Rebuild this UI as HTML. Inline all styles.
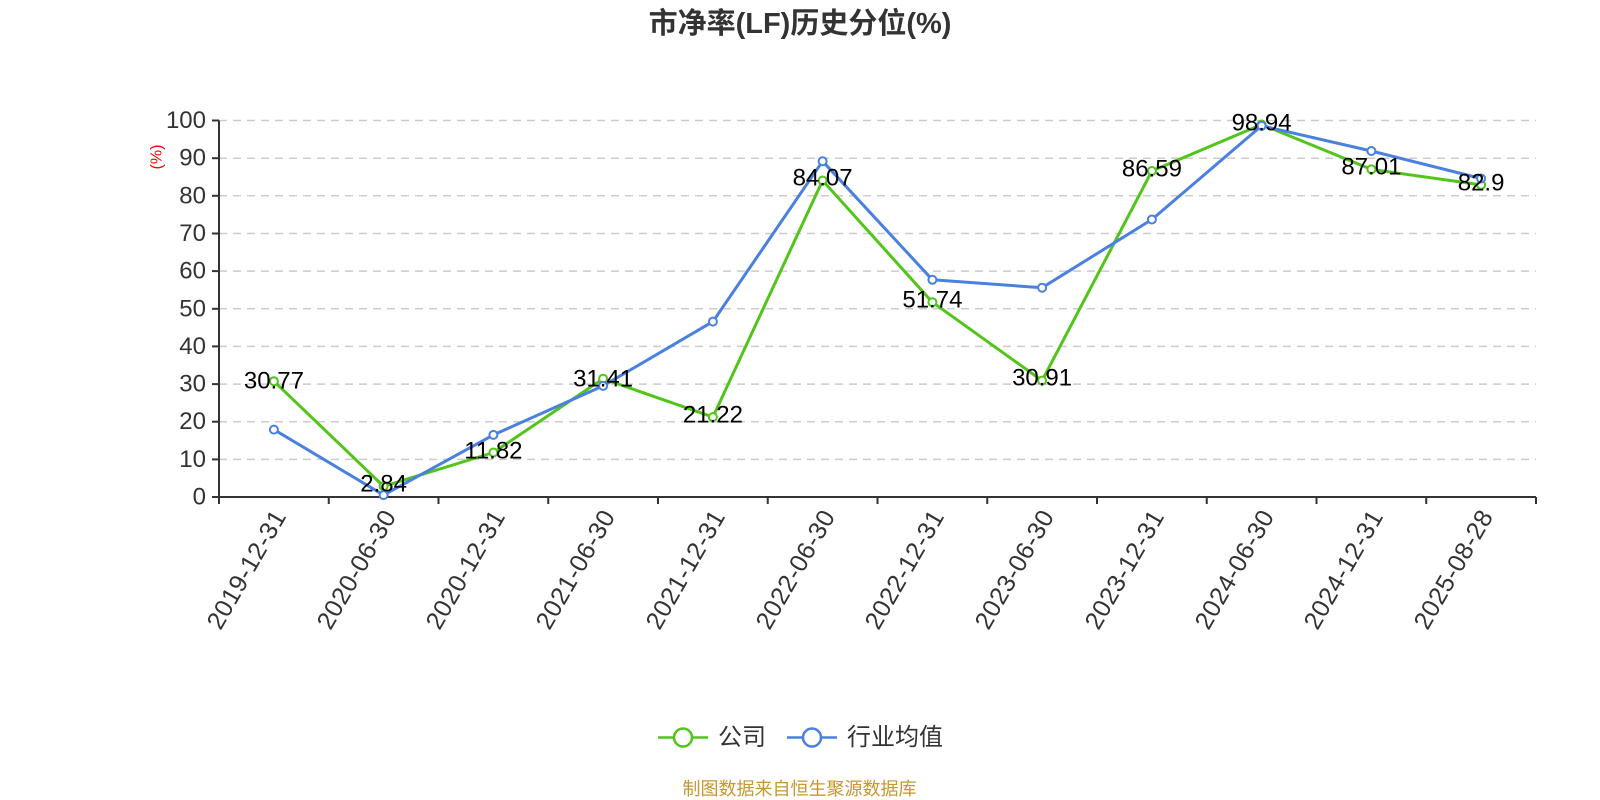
<!DOCTYPE html>
<html><head><meta charset="utf-8"><style>
html,body{margin:0;padding:0;background:#fff;}
svg{display:block;font-family:"Liberation Sans","Noto Sans CJK SC",sans-serif;}
</style></head><body>
<svg width="1600" height="800" viewBox="0 0 1600 800" xmlns="http://www.w3.org/2000/svg">
<text x="800" y="24" text-anchor="middle" dominant-baseline="central" font-size="29" font-weight="bold" fill="#333">市净率(LF)历史分位(%)</text>
<g stroke="#ccc" stroke-width="1.5" stroke-dasharray="8,6">
<line x1="219" x2="1536" y1="120.5" y2="120.5"/><line x1="219" x2="1536" y1="158.2" y2="158.2"/>
<line x1="219" x2="1536" y1="195.8" y2="195.8"/><line x1="219" x2="1536" y1="233.5" y2="233.5"/>
<line x1="219" x2="1536" y1="271.1" y2="271.1"/><line x1="219" x2="1536" y1="308.8" y2="308.8"/>
<line x1="219" x2="1536" y1="346.4" y2="346.4"/><line x1="219" x2="1536" y1="384.1" y2="384.1"/>
<line x1="219" x2="1536" y1="421.7" y2="421.7"/><line x1="219" x2="1536" y1="459.4" y2="459.4"/>
</g>
<g stroke="#333" stroke-width="2">
<line x1="219" x2="219" y1="120.5" y2="497"/>
<line x1="212" x2="219" y1="120.5" y2="120.5"/><line x1="212" x2="219" y1="158.2" y2="158.2"/><line x1="212" x2="219" y1="195.8" y2="195.8"/><line x1="212" x2="219" y1="233.5" y2="233.5"/><line x1="212" x2="219" y1="271.1" y2="271.1"/><line x1="212" x2="219" y1="308.8" y2="308.8"/><line x1="212" x2="219" y1="346.4" y2="346.4"/><line x1="212" x2="219" y1="384.1" y2="384.1"/><line x1="212" x2="219" y1="421.7" y2="421.7"/><line x1="212" x2="219" y1="459.4" y2="459.4"/><line x1="212" x2="219" y1="497" y2="497"/>
<line x1="219" x2="1536" y1="497" y2="497"/>
<line x1="219" x2="219" y1="497" y2="504"/><line x1="328.75" x2="328.75" y1="497" y2="504"/><line x1="438.5" x2="438.5" y1="497" y2="504"/><line x1="548.25" x2="548.25" y1="497" y2="504"/><line x1="658" x2="658" y1="497" y2="504"/><line x1="767.75" x2="767.75" y1="497" y2="504"/><line x1="877.5" x2="877.5" y1="497" y2="504"/><line x1="987.25" x2="987.25" y1="497" y2="504"/><line x1="1097" x2="1097" y1="497" y2="504"/><line x1="1206.75" x2="1206.75" y1="497" y2="504"/><line x1="1316.5" x2="1316.5" y1="497" y2="504"/><line x1="1426.25" x2="1426.25" y1="497" y2="504"/><line x1="1536" x2="1536" y1="497" y2="504"/>
</g>
<g font-size="24" fill="#333" text-anchor="end" dominant-baseline="central">
<text x="206" y="120.5">100</text><text x="206" y="158.2">90</text><text x="206" y="195.8">80</text><text x="206" y="233.5">70</text><text x="206" y="271.1">60</text><text x="206" y="308.8">50</text><text x="206" y="346.4">40</text><text x="206" y="384.1">30</text><text x="206" y="421.7">20</text><text x="206" y="459.4">10</text><text x="206" y="497">0</text>
</g>
<text transform="translate(157,157) rotate(-90)" font-size="16" fill="#f00" text-anchor="middle" dominant-baseline="central">(%)</text>
<g font-size="25" fill="#333" text-anchor="end" letter-spacing="0.5">
<text transform="translate(280,512) rotate(-60)" dominant-baseline="central">2019-12-31</text>
<text transform="translate(390,512) rotate(-60)" dominant-baseline="central">2020-06-30</text>
<text transform="translate(499,512) rotate(-60)" dominant-baseline="central">2020-12-31</text>
<text transform="translate(609,512) rotate(-60)" dominant-baseline="central">2021-06-30</text>
<text transform="translate(719,512) rotate(-60)" dominant-baseline="central">2021-12-31</text>
<text transform="translate(829,512) rotate(-60)" dominant-baseline="central">2022-06-30</text>
<text transform="translate(938,512) rotate(-60)" dominant-baseline="central">2022-12-31</text>
<text transform="translate(1048,512) rotate(-60)" dominant-baseline="central">2023-06-30</text>
<text transform="translate(1158,512) rotate(-60)" dominant-baseline="central">2023-12-31</text>
<text transform="translate(1268,512) rotate(-60)" dominant-baseline="central">2024-06-30</text>
<text transform="translate(1377,512) rotate(-60)" dominant-baseline="central">2024-12-31</text>
<text transform="translate(1487,512) rotate(-60)" dominant-baseline="central">2025-08-28</text>
</g>
<polyline fill="none" stroke="#52c41a" stroke-width="3" stroke-linejoin="round" points="273.9,381.2 383.6,486.3 493.4,452.5 603.1,378.7 712.9,417.1 822.6,180.5 932.4,302.2 1042.1,380.6 1151.9,171.0 1261.6,124.5 1371.4,169.4 1481.1,184.9"/>
<g fill="#fff" stroke="#52c41a" stroke-width="2">
<circle cx="273.9" cy="381.2" r="4"/><circle cx="383.6" cy="486.3" r="4"/><circle cx="493.4" cy="452.5" r="4"/><circle cx="603.1" cy="378.7" r="4"/><circle cx="712.9" cy="417.1" r="4"/><circle cx="822.6" cy="180.5" r="4"/><circle cx="932.4" cy="302.2" r="4"/><circle cx="1042.1" cy="380.6" r="4"/><circle cx="1151.9" cy="171.0" r="4"/><circle cx="1261.6" cy="124.5" r="4"/><circle cx="1371.4" cy="169.4" r="4"/><circle cx="1481.1" cy="184.9" r="4"/>
</g>
<polyline fill="none" stroke="#4a80e0" stroke-width="3" stroke-linejoin="round" points="273.9,429.6 383.6,495.1 493.4,434.9 603.1,385.9 712.9,321.6 822.6,161.2 932.4,279.8 1042.1,287.7 1151.9,219.5 1261.6,125.8 1371.4,151.0 1481.1,178.5"/>
<g fill="#fff" stroke="#4a80e0" stroke-width="2">
<circle cx="273.9" cy="429.6" r="4"/><circle cx="383.6" cy="495.1" r="4"/><circle cx="493.4" cy="434.9" r="4"/><circle cx="603.1" cy="385.9" r="4"/><circle cx="712.9" cy="321.6" r="4"/><circle cx="822.6" cy="161.2" r="4"/><circle cx="932.4" cy="279.8" r="4"/><circle cx="1042.1" cy="287.7" r="4"/><circle cx="1151.9" cy="219.5" r="4"/><circle cx="1261.6" cy="125.8" r="4"/><circle cx="1371.4" cy="151.0" r="4"/><circle cx="1481.1" cy="178.5" r="4"/>
</g>
<g font-size="24" fill="#000" text-anchor="middle" dominant-baseline="central">
<text x="273.9" y="381">30.77</text><text x="383.6" y="484">2.84</text><text x="493.4" y="451">11.82</text><text x="603.1" y="379">31.41</text><text x="712.9" y="415">21.22</text><text x="822.6" y="178">84.07</text><text x="932.4" y="300">51.74</text><text x="1042.1" y="378">30.91</text><text x="1151.9" y="169">86.59</text><text x="1261.6" y="123">98.94</text><text x="1371.4" y="167">87.01</text><text x="1481.1" y="183">82.9</text>
</g>
<line x1="658" x2="708" y1="737.5" y2="737.5" stroke="#52c41a" stroke-width="2.5"/>
<circle cx="683" cy="737.5" r="9" fill="#fff" stroke="#52c41a" stroke-width="2.5"/>
<text x="718" y="737.5" font-size="24" fill="#333" dominant-baseline="central">公司</text>
<line x1="787" x2="837" y1="737.5" y2="737.5" stroke="#4a80e0" stroke-width="2.5"/>
<circle cx="812" cy="737.5" r="9" fill="#fff" stroke="#4a80e0" stroke-width="2.5"/>
<text x="847" y="737.5" font-size="24" fill="#333" dominant-baseline="central">行业均值</text>
<text x="799.5" y="789" font-size="18" fill="#c8962e" text-anchor="middle" dominant-baseline="central">制图数据来自恒生聚源数据库</text>
</svg>
</body></html>
